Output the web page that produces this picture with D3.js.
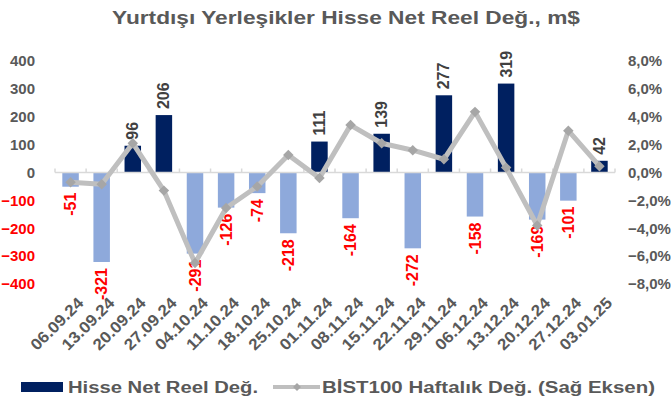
<!DOCTYPE html>
<html>
<head>
<meta charset="utf-8">
<script src="https://cdn.jsdelivr.net/npm/d3@7"></script>
<style>
  body { margin: 0; background: #fff; }
  svg text { font-family: Arial, "Liberation Sans", sans-serif; font-weight: bold; }
</style>
</head>
<body>
<div id="chart"></div>
<script>
// weekly dates
const dates = ["06.09.24", "13.09.24", "20.09.24", "27.09.24", "04.10.24", "11.10.24",
    "18.10.24", "25.10.24", "01.11.24", "08.11.24", "15.11.24", "22.11.24",
    "29.11.24", "06.12.24", "13.12.24", "20.12.24", "27.12.24", "03.01.25"];

// net real change of foreign holdings, m$
const netFlows = [-51, -321, 96, 206, -291, -126, -74, -218, 111, -164, 139, -272,
    277, -158, 319, -169, -101, 42];

// BIST100 weekly change, % (right axis)
const bistChange = [-0.7, -0.85, 2.1, -1.3, -6.5, -2.55, -1.0, 1.25, -0.4, 3.4, 2.1, 1.6,
    0.95, 4.35, 0.35, -3.8, 3.0, 0.45];

const leftTicks = [400, 300, 200, 100, 0, -100, -200, -300, -400];
const rightTicks = [8, 6, 4, 2, 0, -2, -4, -6, -8];

const width = 671, height = 405;
const margin = {top: 61, right: 56, bottom: 124, left: 55};

const svg = d3.select("#chart").append("svg")
    .attr("width", width)
    .attr("height", height);

const x = d3.scaleBand()
    .domain(dates)
    .range([margin.left, width - margin.right])
    .paddingInner(0.47)
    .paddingOuter(0.235);

const band = d3.scaleBand()
    .domain(dates)
    .range([margin.left, width - margin.right]);

const y = d3.scaleLinear()
    .domain([-400, 400])
    .range([height - margin.bottom + 3, margin.top]);

const y2 = d3.scaleLinear()
    .domain([-8, 8])
    .range([height - margin.bottom + 3, margin.top]);

// title
svg.append("text")
    .attr("x", 112)
    .attr("y", 24)
    .attr("fill", "#595959")
    .attr("textLength", 468)
    .attr("lengthAdjust", "spacingAndGlyphs")
    .style("font-size", "18px")
    .text("Yurtdışı Yerleşikler Hisse Net Reel Değ., m$");

// left axis
const yAxis = svg.append("g")
    .attr("transform", `translate(${margin.left - 20},0)`)
    .call(d3.axisLeft(y).tickValues(leftTicks).tickSize(0).tickPadding(0));
yAxis.select(".domain").remove();
yAxis.selectAll("text")
    .attr("fill", d => d < 0 ? "#FF0000" : "#595959")
    .style("font-size", "15px");

// right axis
const y2Axis = svg.append("g")
    .attr("transform", `translate(${width - margin.right + 13},0)`)
    .call(d3.axisRight(y2).tickValues(rightTicks).tickSize(0).tickPadding(0)
        .tickFormat(d => d3.format(".1f")(d).replace(".", ",") + "%"));
y2Axis.select(".domain").remove();
y2Axis.selectAll("text")
    .attr("fill", "#595959")
    .style("font-size", "15px");

// bars
svg.selectAll(".bar")
    .data(netFlows)
    .enter()
    .append("rect")
    .attr("class", "bar")
    .attr("x", (d, i) => x(dates[i]))
    .attr("width", x.bandwidth())
    .attr("y", d => y(Math.max(0, d)))
    .attr("height", d => Math.abs(y(d) - y(0)))
    .attr("fill", d => d >= 0 ? "#002060" : "#8EA9DB");

// zero axis with tick marks between categories
const xAxis = svg.append("g")
    .attr("transform", `translate(0,${y(0)})`);
xAxis.append("line")
    .attr("x1", margin.left)
    .attr("x2", width - margin.right)
    .attr("stroke", "#D9D9D9")
    .attr("stroke-width", 1.5);
xAxis.selectAll(".tk")
    .data(dates.concat(["end"]))
    .enter()
    .append("line")
    .attr("x1", (d, i) => band.range()[0] + i * band.bandwidth())
    .attr("x2", (d, i) => band.range()[0] + i * band.bandwidth())
    .attr("y1", 0)
    .attr("y2", -4)
    .attr("stroke", "#D9D9D9")
    .attr("stroke-width", 1.5);

// bar value labels
svg.selectAll(".val")
    .data(netFlows)
    .enter()
    .append("text")
    .attr("class", "val")
    .attr("transform", (d, i) => {
        const cx = x(dates[i]) + x.bandwidth() / 2;
        const cy = d >= 0 ? y(d) - 6 : y(d) + 6;
        return `translate(${cx},${cy}) rotate(-90)`;
    })
    .attr("text-anchor", d => d >= 0 ? "start" : "end")
    .attr("dy", "0.35em")
    .attr("fill", d => d >= 0 ? "#404040" : "#FF0000")
    .style("font-size", "16px")
    .text(d => d);

// BIST100 line
const line = d3.line()
    .x((d, i) => band(dates[i]) + band.bandwidth() / 2)
    .y(d => y2(d));

svg.append("path")
    .datum(bistChange)
    .attr("fill", "none")
    .attr("stroke", "#BFBFBF")
    .attr("stroke-width", 5)
    .attr("stroke-linejoin", "round")
    .attr("d", line);

svg.selectAll(".mk")
    .data(bistChange)
    .enter()
    .append("path")
    .attr("class", "mk")
    .attr("d", d3.symbol().type(d3.symbolDiamond2).size(70))
    .attr("transform", (d, i) => `translate(${band(dates[i]) + band.bandwidth() / 2},${y2(d)})`)
    .attr("fill", "#A6A6A6");

// x labels
svg.selectAll(".xl")
    .data(dates)
    .enter()
    .append("text")
    .attr("class", "xl")
    .attr("transform", d => `translate(${band(d) + band.bandwidth() / 2 + 6},${height - margin.bottom + 15}) rotate(-45)`)
    .attr("text-anchor", "end")
    .attr("dy", "0.7em")
    .attr("fill", "#595959")
    .attr("textLength", 67)
    .attr("lengthAdjust", "spacingAndGlyphs")
    .style("font-size", "16px")
    .text(d => d);

// legend
const legend = svg.append("g").attr("class", "legend");
legend.append("rect")
    .attr("x", 21).attr("y", 382)
    .attr("width", 42).attr("height", 10)
    .attr("fill", "#002060");
legend.append("text")
    .attr("x", 68).attr("y", 392.5)
    .attr("fill", "#595959")
    .attr("textLength", 190)
    .attr("lengthAdjust", "spacingAndGlyphs")
    .style("font-size", "16px")
    .text("Hisse Net Reel Değ.");
legend.append("line")
    .attr("x1", 273).attr("x2", 320)
    .attr("y1", 387).attr("y2", 387)
    .attr("stroke", "#BFBFBF")
    .attr("stroke-width", 4);
legend.append("path")
    .attr("d", d3.symbol().type(d3.symbolDiamond2).size(40))
    .attr("transform", "translate(297,387)")
    .attr("fill", "#A6A6A6");
legend.append("text")
    .attr("x", 322).attr("y", 392.5)
    .attr("fill", "#595959")
    .attr("textLength", 333)
    .attr("lengthAdjust", "spacingAndGlyphs")
    .style("font-size", "16px")
    .text("BİST100 Haftalık Değ. (Sağ Eksen)");
</script>
</body>
</html>
